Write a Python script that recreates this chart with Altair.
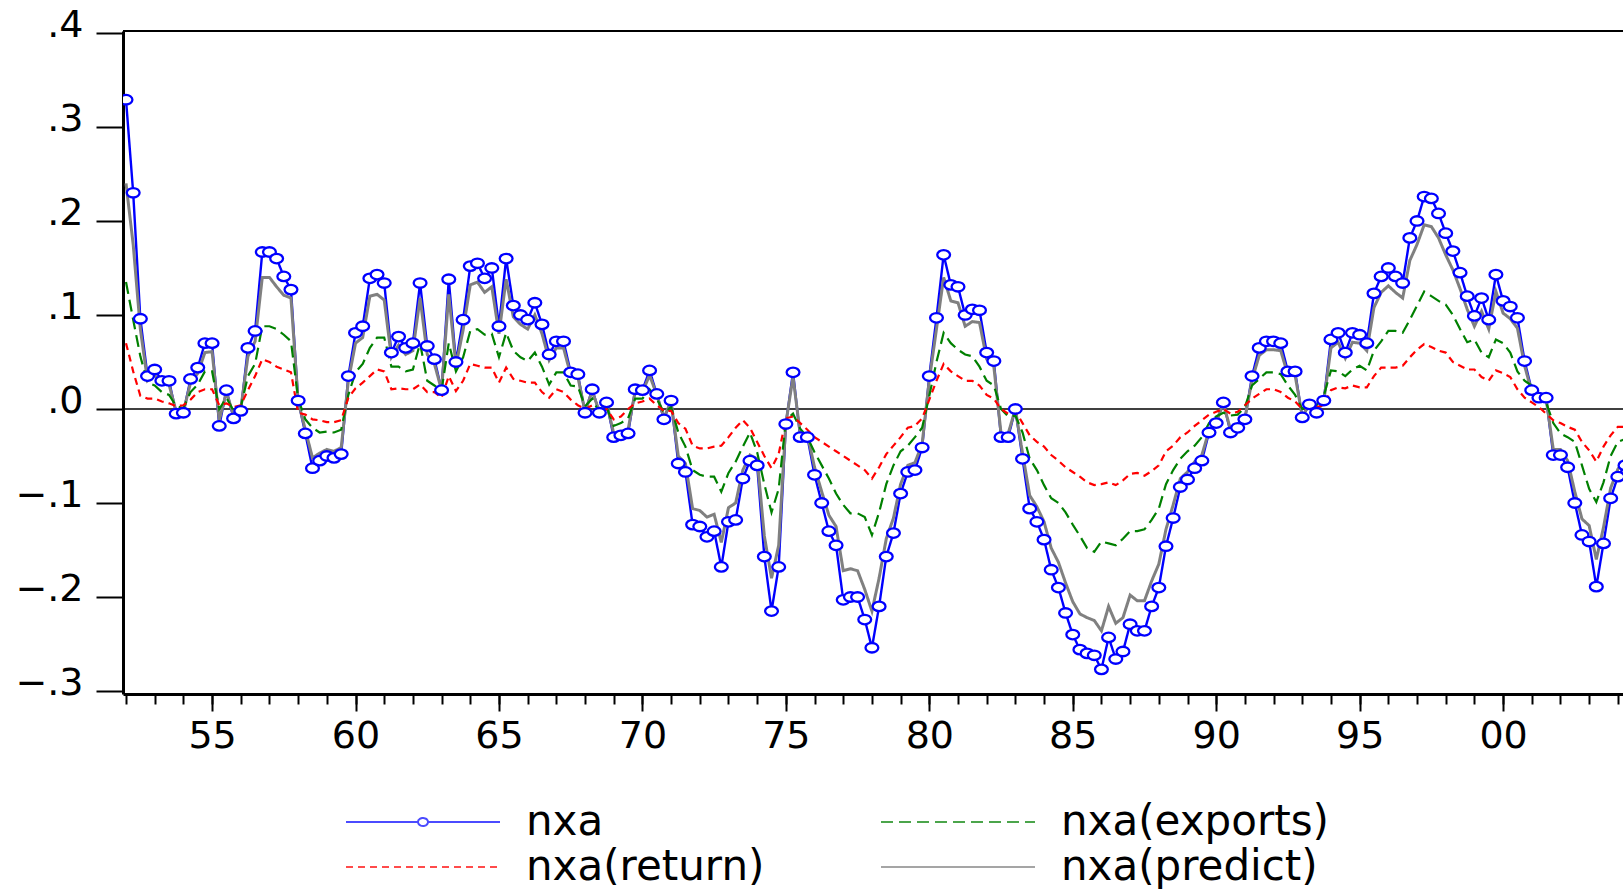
import altair as alt
import pandas as pd

start_year = 1952

nxa = [
    .329, .230, .096, .035,   .042, .030, .030, -.005,   -.004, .032, .044, .070,
    .070, -.018, .020, -.010,   -.002, .065, .083, .167,   .167, .160, .141, .127,
    .009, -.026, -.063, -.055,   -.050, -.052, -.048, .035,   .081, .088, .139, .143,
    .134, .060, .077, .065,   .070, .134, .067, .053,   .020, .138, .050, .095,
    .152, .155, .139, .150,   .088, .160, .110, .100,   .095, .113, .090, .058,
    .072, .072, .039, .037,   -.004, .021, -.004, .007,   -.030, -.028, -.026, .021,
    .020, .041, .016, -.011,   .009, -.058, -.067, -.123,   -.125, -.136, -.130, -.168,
    -.120, -.118, -.074, -.055,   -.060, -.157, -.215, -.168,   -.016, .039, -.030, -.030,
    -.070, -.100, -.130, -.145,   -.203, -.200, -.200, -.224,   -.254, -.210, -.157, -.132,
    -.090, -.067, -.065, -.041,   .035, .097, .164, .132,   .130, .100, .106, .105,
    .060, .051, -.030, -.030,   .000, -.053, -.106, -.120,   -.139, -.171, -.190, -.217,
    -.240, -.256, -.260, -.262,   -.277, -.243, -.266, -.258,   -.229, -.236, -.236, -.210,
    -.190, -.146, -.116, -.083,   -.075, -.063, -.055, -.025,   -.015, .007, -.025, -.020,
    -.011, .035, .065, .072,   .072, .070, .040, .040,   -.009, .005, -.004, .009,
    .074, .081, .060, .081,   .079, .070, .123, .141,   .150, .141, .134, .182,
    .200, .226, .224, .208,   .187, .168, .145, .120,   .099, .118, .095, .143,
    .115, .109, .097, .051,   .020, .012, .012, -.049,   -.049, -.062, -.100, -.134,
    -.141, -.189, -.143, -.095,   -.072, -.060,
]

predict = [
    .240, .175, .085, .030,   .036, .027, .026, -.003,   -.003, .028, .038, .060,
    .061, -.012, .018, -.007,   .000, .056, .072, .140,   .140, .130, .121, .118,
    .008, -.022, -.052, -.047,   -.043, -.045, -.041, .030,   .070, .076, .120, .122,
    .116, .055, .068, .058,   .062, .118, .058, .048,   .020, .122, .046, .084,
    .132, .135, .124, .130,   .080, .138, .098, .090,   .085, .100, .080, .052,
    .065, .065, .036, .034,   -.003, .019, -.003, .007,   -.026, -.024, -.022, .019,
    .018, .036, .015, -.009,   .008, -.050, -.058, -.106,   -.108, -.115, -.112, -.142,
    -.105, -.100, -.065, -.049,   -.053, -.135, -.180, -.145,   -.015, .034, -.026, -.027,
    -.062, -.088, -.113, -.125,   -.172, -.170, -.172, -.192,   -.215, -.180, -.138, -.116,
    -.080, -.060, -.057, -.037,   .031, .085, .140, .115,   .113, .088, .093, .092,
    .053, .045, -.026, -.026,   .000, -.047, -.092, -.104,   -.120, -.148, -.163, -.185,
    -.205, -.218, -.222, -.225,   -.236, -.210, -.228, -.222,   -.198, -.204, -.204, -.183,
    -.165, -.128, -.102, -.074,   -.067, -.056, -.049, -.023,   -.014, .006, -.022, -.018,
    -.010, .031, .057, .063,   .063, .062, .036, .036,   -.008, .005, -.003, .008,
    .065, .071, .054, .071,   .070, .062, .108, .124,   .131, .124, .118, .158,
    .175, .196, .194, .182,   .164, .148, .128, .106,   .088, .104, .085, .125,
    .102, .096, .086, .046,   .018, .011, .011, -.043,   -.043, -.055, -.088, -.117,
    -.124, -.160, -.126, -.084,   -.064, -.053,
]

exports = [
    .135, .095, .056, .028,   .025, .018, .015, .003,   .001, .018, .026, .040,
    .040, .000, .012, -.002,   .002, .035, .048, .088,   .088, .085, .079, .072,
    .011, -.011, -.020, -.025,   -.024, -.025, -.022, .015,   .039, .048, .065, .076,
    .076, .045, .045, .040,   .042, .070, .030, .025,   .020, .070, .040, .055,
    .083, .085, .079, .080,   .055, .081, .062, .055,   .051, .060, .045, .026,
    .039, .039, .025, .024,   .003, .011, -.004, .002,   -.018, -.015, -.010, .011,
    .011, .021, .011, -.004,   .002, -.025, -.040, -.065,   -.070, -.072, -.072, -.088,
    -.068, -.056, -.040, -.025,   -.046, -.080, -.110, -.085,   -.012, -.005, -.021, -.030,
    -.046, -.060, -.074, -.090,   -.102, -.111, -.111, -.115,   -.134, -.110, -.080, -.060,
    -.045, -.039, -.030, -.020,   .014, .050, .081, .070,   .063, .058, .056, .045,
    .030, .025, .000, -.008,   -.007, -.025, -.053, -.065,   -.081, -.095, -.100, -.110,
    -.123, -.135, -.148, -.152,   -.141, -.143, -.145, -.138,   -.130, -.130, -.128, -.118,
    -.106, -.080, -.065, -.053,   -.045, -.039, -.030, -.015,   -.008, -.004, -.007, -.006,
    .002, .025, .032, .039,   .039, .037, .025, .015,   .000, .003, .004, .014,
    .041, .040, .035, .042,   .046, .041, .062, .072,   .083, .083, .081, .095,
    .110, .125, .120, .115,   .111, .100, .085, .071,   .074, .060, .055, .074,
    .070, .060, .040, .030,   .025, .010, .007, -.015,   -.026, -.030, -.035, -.060,
    -.085, -.099, -.078, -.050,   -.035, -.032,
]

returns = [
    .070, .040, .014, .011,   .011, .008, .006, .003,   .004, .010, .018, .021,
    .021, .004, .006, .002,   .004, .020, .035, .053,   .050, .045, .042, .039,
    -.004, -.006, -.011, -.012,   -.014, -.014, -.012, .012,   .022, .028, .035, .042,
    .040, .021, .022, .021,   .021, .026, .018, .018,   .012, .035, .019, .030,
    .048, .046, .044, .044,   .028, .044, .032, .030,   .028, .028, .018, .012,
    .021, .018, .010, .004,   .000, .004, -.007, .000,   -.011, -.008, .000, .006,
    .008, .011, .004, -.002,   -.002, -.015, -.021, -.039,   -.042, -.042, -.040, -.039,
    -.030, -.020, -.012, -.020,   -.035, -.050, -.063, -.048,   -.010, -.008, -.015, -.022,
    -.030, -.035, -.040, -.045,   -.050, -.055, -.060, -.065,   -.074, -.062, -.048, -.039,
    -.030, -.020, -.018, -.010,   .010, .030, .048, .040,   .035, .030, .030, .025,
    .015, .011, .000, -.005,   -.002, -.015, -.028, -.035,   -.040, -.049, -.055, -.062,
    -.067, -.072, -.078, -.081,   -.080, -.078, -.081, -.076,   -.069, -.068, -.071, -.066,
    -.060, -.045, -.039, -.030,   -.025, -.018, -.012, -.006,   -.003, .000, -.005, -.003,
    .004, .011, .016, .021,   .021, .018, .012, .008,   .000, .003, .002, .004,
    .020, .023, .022, .025,   .023, .023, .035, .044,   .044, .044, .046, .055,
    .063, .069, .066, .062,   .060, .050, .046, .042,   .042, .034, .030, .041,
    .038, .034, .021, .012,   .007, .002, -.005, -.012,   -.015, -.019, -.022, -.035,
    -.044, -.056, -.040, -.028,   -.019, -.019,
]

series_names = ["nxa", "nxa(exports)", "nxa(return)", "nxa(predict)"]
series_colors = ["#0000ff", "#008000", "#ff0000", "#808080"]
series_dash = [[1, 0], [12, 6], [7, 5], [1, 0]]
legend_paths = [
    "M-77,0H-5M5,0H77M5,0A5,4,0,1,1,-5,0A5,4,0,1,1,5,0",
    "M-77,0H77",
    "M-77,0H77",
    "M-77,0H77",
]
y_ticks = [-0.3, -0.2, -0.1, 0.0, 0.1, 0.2, 0.3, 0.4]
major_years = list(range(1955, 2001, 5))
minor_years = list(range(1952, 2005))

n = len(nxa)
t = [start_year + i / 4 for i in range(n)]
rows = []
for name, vals in zip(series_names, [nxa, exports, returns, predict]):
    for ti, v in zip(t, vals):
        rows.append({"t": ti, "value": v, "series": name})
df = pd.DataFrame(rows)
zero_df = pd.DataFrame({"value": [0.0]})

FONT = "DejaVu Sans"
x_scale = alt.Scale(domain=[1951.895, 2004.18], nice=False, zero=False)
y_scale = alt.Scale(domain=[-0.3032, 0.4021], nice=False, zero=False)

yaxis = alt.Axis(values=y_ticks,
                 labelExpr="replace(format(datum.value, '.1f'), '0.', '.')",
                 tickSize=27, tickWidth=2, tickColor="black",
                 domainWidth=3, domainColor="black",
                 labelPadding=13, labelFont=FONT, labelFontSize=38,
                 labelColor="black", labelBaseline="alphabetic", labelOffset=4,
                 labelFlush=False, labelOverlap=False, grid=False, title=None)
xaxis_major = alt.Axis(values=major_years,
                       labelExpr="slice(toString(datum.value), 2)",
                       tickSize=17, tickWidth=2, tickColor="black",
                       domainWidth=3, domainColor="black",
                       labelPadding=6, labelFont=FONT, labelFontSize=38,
                       labelColor="black", labelFlush=False, labelOverlap=False,
                       grid=False, title=None, orient="bottom")
xaxis_minor = alt.Axis(values=minor_years, tickSize=10, tickWidth=2,
                       tickColor="black", labels=False, domain=False,
                       grid=False, title=None, orient="bottom")

legend = alt.Legend(title=None, orient="none", legendX=224, legendY=770,
                    direction="horizontal", columns=2, columnPadding=112,
                    rowPadding=3, symbolSize=4, symbolStrokeWidth=2,
                    symbolOffset=55, labelOffset=82, labelFont=FONT,
                    labelFontSize=42, labelColor="black", labelLimit=600,
                    padding=0)
color_enc = alt.Color("series:N", scale=alt.Scale(domain=series_names, range=series_colors), legend=legend)
dash_enc = alt.StrokeDash("series:N", scale=alt.Scale(domain=series_names, range=series_dash), legend=legend)
shape_enc = alt.Shape("series:N", scale=alt.Scale(domain=series_names, range=legend_paths), legend=legend)

base = alt.Chart(df)


def line_layer(name, width, xaxis):
    return base.transform_filter(alt.datum.series == name).mark_line(
        strokeWidth=width, clip=True).encode(
        x=alt.X("t:Q", scale=x_scale, axis=xaxis),
        y=alt.Y("value:Q", scale=y_scale, axis=yaxis),
        color=color_enc, strokeDash=dash_enc)


zero_line = alt.Chart(zero_df).mark_rule(color="black", strokeWidth=1.5).encode(
    y=alt.Y("value:Q", scale=y_scale, axis=yaxis))
top_line = alt.Chart(zero_df).mark_rule(color="black", strokeWidth=2).encode(
    y=alt.value(0))

markers = base.transform_filter(alt.datum.series == "nxa").mark_point(
    shape="M-1.35,0A1.35,1,0,1,1,1.35,0A1.35,1,0,1,1,-1.35,0Z", size=90,
    filled=True, fill="white", stroke="#0000ff", strokeWidth=2.3, opacity=1,
    clip=True).encode(
    x=alt.X("t:Q", scale=x_scale, axis=xaxis_minor),
    y=alt.Y("value:Q", scale=y_scale, axis=yaxis))

dummy = base.transform_filter("false").mark_point(size=4, strokeWidth=2, filled=False).encode(
    x=alt.X("t:Q", scale=x_scale, axis=None),
    y=alt.Y("value:Q", scale=y_scale, axis=yaxis),
    shape=shape_enc)

chart = alt.layer(
    zero_line,
    top_line,
    line_layer("nxa", 2.4, xaxis_major),
    line_layer("nxa(predict)", 3, None),
    line_layer("nxa(exports)", 2.2, None),
    line_layer("nxa(return)", 2.2, None),
    markers,
    dummy,
).resolve_axis(x="independent").properties(
    width=1500, height=663,
    padding={"left": 123, "top": 31, "right": 0, "bottom": 196},
    autosize=alt.AutoSizeParams(type="none"),
    background="white",
).configure_view(stroke="transparent")

chart.save("out.html", embed_options={"renderer": "svg", "actions": False})
